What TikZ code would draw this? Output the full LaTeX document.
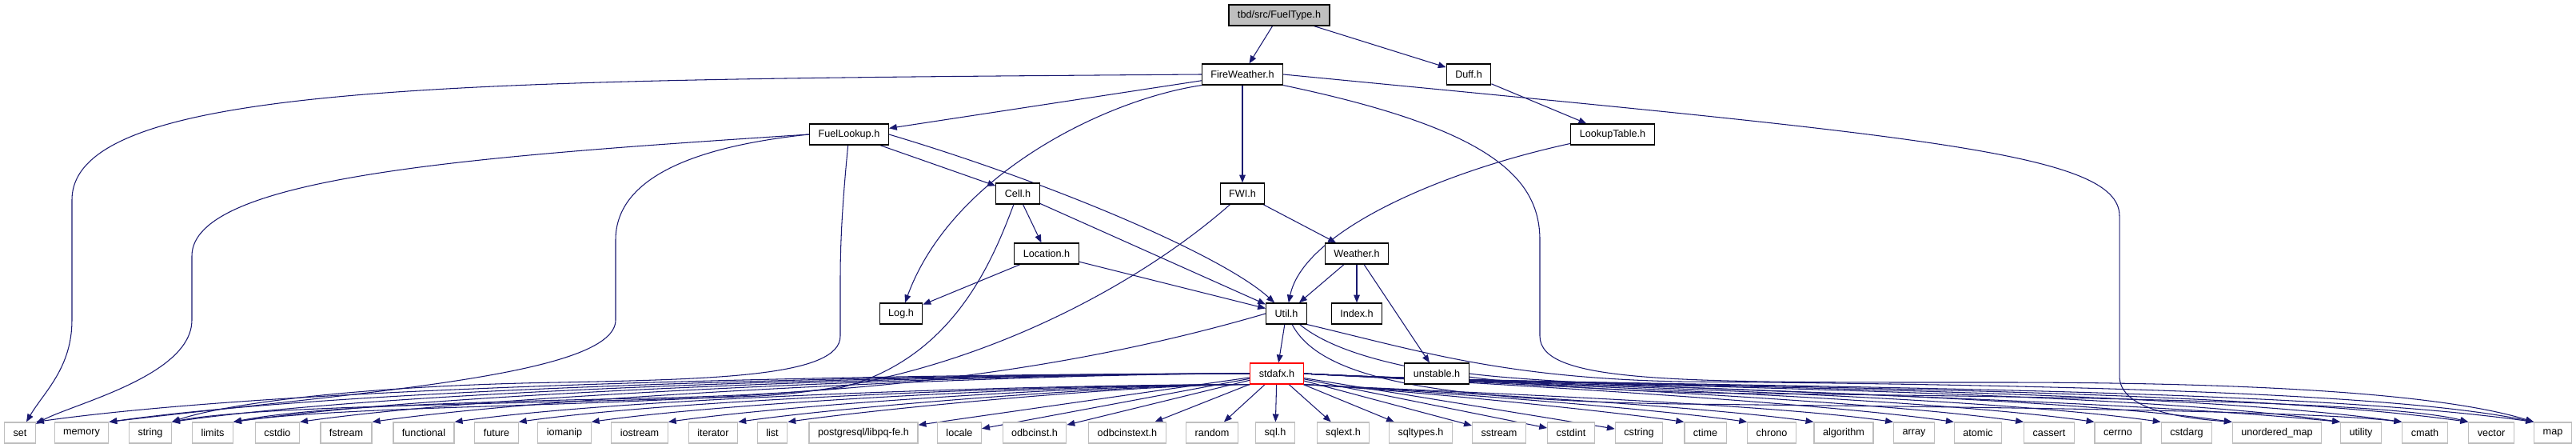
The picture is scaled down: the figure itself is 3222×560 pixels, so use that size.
\documentclass[tikz,border=0pt]{standalone}
\usepackage{fontspec}
\setmainfont{Liberation Sans}
\usetikzlibrary{arrows.meta, backgrounds}
\definecolor{edgeblue}{HTML}{191970}
\definecolor{sysgray}{HTML}{BFBFBF}
\tikzset{
	filenode/.style={
			rectangle,
			draw=black,
			line width=0.7pt,
			fill=white,
			minimum height=0.52cm,
			inner xsep=0.22cm,
			inner ysep=0pt,
			font=\fontsize{7.2}{8.6}\selectfont
		},
	rootnode/.style={
			filenode,
			fill=sysgray
		},
	trunknode/.style={
			filenode,
			draw=red
		},
	sysnode/.style={
			filenode,
			draw=sysgray
		},
	dep/.style={
			draw=edgeblue,
			line width=0.6pt,
			-{Triangle[length=5.6pt,width=4.4pt]}
		},
	toleft/.style={out=180, in=8, looseness=0.6},
	toright/.style={out=-3, in=172, looseness=0.6}
}

\begin{document}
\begin{tikzpicture}[x=0.02cm, y=-0.02cm]
\useasboundingbox (0,0) rectangle (3222,560);

% project headers
\node[rootnode] (fueltype) at (1600,19) {tbd/src/FuelType.h};
\node[filenode] (fireweather) at (1554,93) {FireWeather.h};
\node[filenode] (duff) at (1837,93) {Duff.h};
\node[filenode] (fuellookup) at (1062,168) {FuelLookup.h};
\node[filenode] (lookuptable) at (2017,168) {LookupTable.h};
\node[filenode] (cell) at (1273,242) {Cell.h};
\node[filenode] (fwi) at (1554,242) {FWI.h};
\node[filenode] (location) at (1309,317) {Location.h};
\node[filenode] (weather) at (1697,317) {Weather.h};
\node[filenode] (log) at (1127,392) {Log.h};
\node[filenode] (util) at (1609,392) {Util.h};
\node[filenode] (index) at (1697,392) {Index.h};
\node[trunknode] (stdafx) at (1597,467) {stdafx.h};
\node[filenode] (unstable) at (1797,467) {unstable.h};

% system headers
\node[sysnode] (set) at (25,541) {set};
\node[sysnode] (memory) at (102,541) {memory};
\node[sysnode] (string) at (188,541) {string};
\node[sysnode] (limits) at (266,541) {limits};
\node[sysnode] (cstdio) at (347,541) {cstdio};
\node[sysnode] (fstream) at (433,541) {fstream};
\node[sysnode] (functional) at (530,541) {functional};
\node[sysnode] (future) at (621,541) {future};
\node[sysnode] (iomanip) at (706,541) {iomanip};
\node[sysnode] (iostream) at (800,541) {iostream};
\node[sysnode] (iterator) at (892,541) {iterator};
\node[sysnode] (list) at (966,541) {list};
\node[sysnode] (libpq) at (1080,541) {postgresql/libpq-fe.h};
\node[sysnode] (locale) at (1200,541) {locale};
\node[sysnode] (odbcinst) at (1294,541) {odbcinst.h};
\node[sysnode] (odbcinstext) at (1410,541) {odbcinstext.h};
\node[sysnode] (random) at (1516,541) {random};
\node[sysnode] (sqlh) at (1595,541) {sql.h};
\node[sysnode] (sqlext) at (1680,541) {sqlext.h};
\node[sysnode] (sqltypes) at (1777,541) {sqltypes.h};
\node[sysnode] (sstream) at (1875,541) {sstream};
\node[sysnode] (cstdint) at (1965,541) {cstdint};
\node[sysnode] (cstring) at (2050,541) {cstring};
\node[sysnode] (ctime) at (2133,541) {ctime};
\node[sysnode] (chrono) at (2216,541) {chrono};
\node[sysnode] (algorithm) at (2306,541) {algorithm};
\node[sysnode] (array) at (2394,541) {array};
\node[sysnode] (atomic) at (2474,541) {atomic};
\node[sysnode] (cassert) at (2563,541) {cassert};
\node[sysnode] (cerrno) at (2649,541) {cerrno};
\node[sysnode] (cstdarg) at (2735,541) {cstdarg};
\node[sysnode] (umap) at (2848,541) {unordered\_map};
\node[sysnode] (utility) at (2953,541) {utility};
\node[sysnode] (cmath) at (3033,541) {cmath};
\node[sysnode] (vector) at (3116,541) {vector};
\node[sysnode] (map) at (3193,541) {map};

\begin{scope}[on background layer]
% includes between project headers
\draw[dep] (fueltype) -- (fireweather);
\draw[dep] (fueltype) -- (duff);
\draw[dep] (duff) -- (lookuptable);
\draw[dep] (fireweather) -- (fuellookup);
\draw[dep] (fireweather) -- (fwi);
\draw[dep] (fireweather.south west) .. controls (1380,125) and (1190,220) .. (log);
\draw[dep] (fireweather.west) .. controls (600,100) and (90,100) .. (90,250) -- (90,400) .. controls (90,460) and (55,490) .. (set);
\draw[dep] (fireweather.east) .. controls (2400,170) and (2651,190) .. (2651,270) -- (2651,470) .. controls (2651,510) and (2720,522) .. (umap.north west);
\draw[dep] (fireweather.south east) .. controls (1860,160) and (1926,220) .. (1926,300) -- (1926,420) .. controls (1926,480) and (2100,478) .. (2500,478) .. controls (2900,478) and (3080,500) .. (map.north west);

\draw[dep] (fuellookup) -- (cell);
\draw[dep] (fuellookup.east) .. controls (1320,230) and (1530,320) .. (util);
\draw[dep] (fuellookup.west) .. controls (600,195) and (240,220) .. (240,320) -- (240,400) .. controls (240,470) and (90,505) .. (set);
\draw[dep] (fuellookup.west) .. controls (850,185) and (770,230) .. (770,300) -- (770,400) .. controls (770,470) and (450,490) .. (memory.north east);
\draw[dep] (fuellookup) .. controls (1054,250) and (1051,300) .. (1051,350) -- (1051,420) .. controls (1051,470) and (900,474) .. (700,478) .. controls (450,482) and (280,505) .. (string.north east);

\draw[dep] (cell) -- (location);
\draw[dep] (cell) -- (util);
\draw[dep] (cell) .. controls (1240,330) and (1190,450) .. (1050,485) .. controls (800,510) and (450,505) .. (limits.north east);

\draw[dep] (fwi) -- (weather);
\draw[dep] (fwi) .. controls (1420,360) and (1200,480) .. (950,495) .. controls (700,505) and (330,505) .. (string.north east);

\draw[dep] (location) -- (log);
\draw[dep] (location) -- (util);
\draw[dep] (weather) -- (util);
\draw[dep] (weather) -- (index);
\draw[dep] (weather) -- (unstable);
\draw[dep] (lookuptable) .. controls (1800,215) and (1630,290) .. (util);

\draw[dep] (util) -- (stdafx);
\draw[dep] (util.west) .. controls (1350,460) and (1100,492) .. (800,498) .. controls (550,503) and (380,510) .. (limits.north east);
\draw[dep] (util) .. controls (1650,470) and (1780,500) .. (2100,505) .. controls (2600,510) and (2900,515) .. (cmath.north west);
\draw[dep] (util) .. controls (1680,450) and (1820,488) .. (2200,492) .. controls (2700,497) and (3000,505) .. (vector.north west);
\draw[dep] (util.south east) .. controls (1780,440) and (1880,472) .. (2100,477) .. controls (2600,481) and (3000,492) .. (map.north west);
\draw[dep] (unstable.east) .. controls (2000,488) and (2600,495) .. (utility.north west);

% stdafx.h to the system headers
\draw[dep] (stdafx.west) to[toleft] (set.north east);
\draw[dep] (stdafx.west) to[toleft] (memory.north east);
\draw[dep] (stdafx.west) to[toleft] (string.north east);
\draw[dep] (stdafx.west) to[toleft] (limits.north east);
\draw[dep] (stdafx.west) to[toleft] (cstdio.north east);
\draw[dep] (stdafx.west) to[toleft] (fstream.north east);
\draw[dep] (stdafx.south west) to[toleft] (functional.north east);
\draw[dep] (stdafx.south west) to[toleft] (future.north east);
\draw[dep] (stdafx.south west) to[toleft] (iomanip.north east);
\draw[dep] (stdafx.south west) to[toleft] (iostream.north east);
\draw[dep] (stdafx.south west) to[toleft] (iterator.north east);
\draw[dep] (stdafx.south west) to[toleft] (list.north east);
\draw[dep] (stdafx) -- (libpq);
\draw[dep] (stdafx) -- (locale);
\draw[dep] (stdafx) -- (odbcinst);
\draw[dep] (stdafx) -- (odbcinstext);
\draw[dep] (stdafx) -- (random);
\draw[dep] (stdafx) -- (sqlh);
\draw[dep] (stdafx) -- (sqlext);
\draw[dep] (stdafx) -- (sqltypes);
\draw[dep] (stdafx) -- (sstream);
\draw[dep] (stdafx) -- (cstdint);
\draw[dep] (stdafx) -- (cstring);
\draw[dep] (stdafx.south east) to[toright] (ctime.north west);
\draw[dep] (stdafx.south east) to[toright] (chrono.north west);
\draw[dep] (stdafx.south east) to[toright] (algorithm.north west);
\draw[dep] (stdafx.south east) to[toright] (array.north west);
\draw[dep] (stdafx.east) to[toright] (atomic.north west);
\draw[dep] (stdafx.east) to[toright] (cassert.north west);
\draw[dep] (stdafx.east) to[toright] (cerrno.north west);
\draw[dep] (stdafx.east) to[toright] (cstdarg.north west);
\draw[dep] (stdafx.east) to[toright] (umap.north west);
\draw[dep] (stdafx.east) to[toright] (utility.north west);
\draw[dep] (stdafx.east) to[toright] (cmath.north west);
\draw[dep] (stdafx.east) to[toright] (vector.north west);
\draw[dep] (stdafx.east) to[toright] (map.north west);
\end{scope}
\end{tikzpicture}
\end{document}
